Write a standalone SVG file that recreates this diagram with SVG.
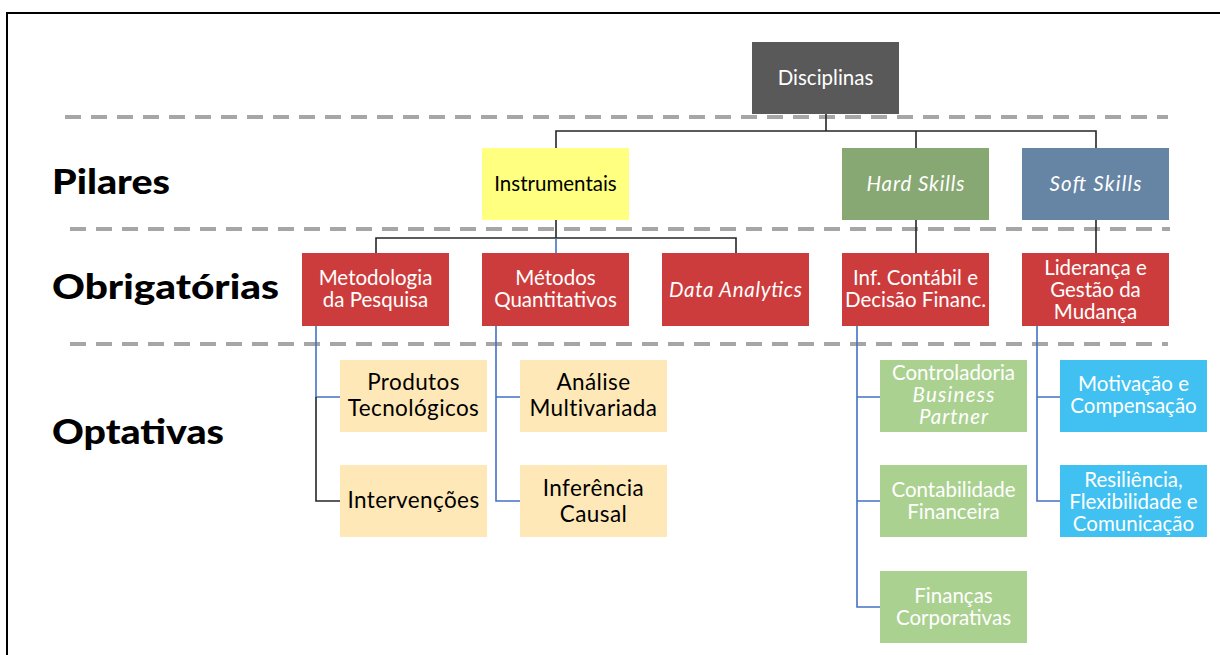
<svg xmlns="http://www.w3.org/2000/svg" width="1220" height="655" viewBox="0 0 1220 655">
<style>
.sep{stroke:#A6A6A6;stroke-width:4;stroke-dasharray:16 10;fill:none}
.k{stroke:#262626;stroke-width:1.6;fill:none}
.b{stroke:#4472C4;stroke-width:1.6;fill:none}
.lab{font-family:"Lato","Liberation Sans",sans-serif;font-weight:900;font-size:34px;fill:#000}
.t{font-family:"Lato","Noto Sans","Liberation Sans",sans-serif;font-size:20.5px;text-anchor:middle}
.t2{font-family:"Lato","Noto Sans","Liberation Sans",sans-serif;font-size:22.5px;letter-spacing:0.4px;text-anchor:middle;fill:#000}
.w{fill:#fff}
.i{font-style:italic}
.red{fill:#CD3C3C}
.opt{fill:#FFE8B7}
.gr{fill:#ABD191}
.bl{fill:#40C1F1}
</style>
<rect x="7" y="13" width="1240" height="700" fill="#fff" stroke="#000" stroke-width="2"/>
<g id="separators">
<line class="sep" x1="65" y1="117" x2="1168" y2="117"/>
<line class="sep" x1="70" y1="229" x2="1170" y2="229"/>
<line class="sep" x1="70" y1="344" x2="1168" y2="344"/>
</g>
<g id="row-labels">
<text class="lab" x="52" y="194" textLength="118" lengthAdjust="spacingAndGlyphs">Pilares</text>
<text class="lab" x="52" y="299" textLength="227" lengthAdjust="spacingAndGlyphs">Obrigatórias</text>
<text class="lab" x="52" y="444" textLength="172" lengthAdjust="spacingAndGlyphs">Optativas</text>
</g>
<g id="connectors">
<path class="k" d="M826 114V131M556 148V131H1096V148M916 131V148"/>
<path class="k" d="M376 253V238H736V253M556 238V220M916 220V253M1096 220V253"/>
<path class="b" d="M556 238V253"/>
<path class="b" d="M316 326V397H340"/>
<path class="k" d="M316 397V501H340"/>
<path class="b" d="M496 326V501H520M496 397H520"/>
<path class="b" d="M857 326V607H880M857 397H880M857 501H880"/>
<path class="b" d="M1037 326V501H1060M1037 397H1060"/>
</g>
<g id="disciplinas">
<rect x="752" y="42" width="147" height="72" fill="#595959"/>
<text class="t w" x="825.5" y="85">Disciplinas</text>
</g>
<g id="instrumentais">
<rect x="482" y="148" width="147" height="72" fill="#FFFF80"/>
<text class="t" x="555.5" y="191" fill="#000">Instrumentais</text>
</g>
<g id="hard-skills">
<rect x="842" y="148" width="147" height="72" fill="#87A872"/>
<text class="t w i" x="915.5" y="191" textLength="98">Hard Skills</text>
</g>
<g id="soft-skills">
<rect x="1022" y="148" width="147" height="72" fill="#6685A5"/>
<text class="t w i" x="1095.5" y="191" textLength="92">Soft Skills</text>
</g>
<g id="metodologia">
<rect class="red" x="302" y="253" width="147" height="73"/>
<text class="t w" x="375.5" y="285">Metodologia</text>
<text class="t w" x="375.5" y="307">da Pesquisa</text>
</g>
<g id="metodos">
<rect class="red" x="482" y="253" width="147" height="73"/>
<text class="t w" x="555.5" y="285">Métodos</text>
<text class="t w" x="555.5" y="307">Quantitativos</text>
</g>
<g id="data-analytics">
<rect class="red" x="662" y="253" width="147" height="73"/>
<text class="t w i" x="735.5" y="297" textLength="133">Data Analytics</text>
</g>
<g id="inf-contabil">
<rect class="red" x="842" y="253" width="147" height="73"/>
<text class="t w" x="915.5" y="285">Inf. Contábil e</text>
<text class="t w" x="915.5" y="307">Decisão Financ.</text>
</g>
<g id="lideranca">
<rect class="red" x="1022" y="253" width="147" height="73"/>
<text class="t w" x="1095.5" y="275">Liderança e</text>
<text class="t w" x="1095.5" y="297">Gestão da</text>
<text class="t w" x="1095.5" y="319">Mudança</text>
</g>
<g id="produtos">
<rect class="opt" x="340" y="360" width="147" height="72"/>
<text class="t2" x="413.5" y="390">Produtos</text>
<text class="t2" x="413.5" y="416">Tecnológicos</text>
</g>
<g id="intervencoes">
<rect class="opt" x="340" y="465" width="147" height="72"/>
<text class="t2" x="413.5" y="508">Intervenções</text>
</g>
<g id="analise">
<rect class="opt" x="520" y="360" width="147" height="72"/>
<text class="t2" x="593.5" y="390">Análise</text>
<text class="t2" x="593.5" y="416">Multivariada</text>
</g>
<g id="inferencia">
<rect class="opt" x="520" y="465" width="147" height="72"/>
<text class="t2" x="593.5" y="496">Inferência</text>
<text class="t2" x="593.5" y="522">Causal</text>
</g>
<g id="controladoria">
<rect class="gr" x="880" y="360" width="147" height="72"/>
<text class="t w" x="953.5" y="380">Controladoria</text>
<text class="t w i" x="953.5" y="402" textLength="82">Business</text>
<text class="t w i" x="953.5" y="424" textLength="69">Partner</text>
</g>
<g id="contabilidade">
<rect class="gr" x="880" y="465" width="147" height="72"/>
<text class="t w" x="953.5" y="497">Contabilidade</text>
<text class="t w" x="953.5" y="519">Financeira</text>
</g>
<g id="financas">
<rect class="gr" x="880" y="571" width="147" height="72"/>
<text class="t w" x="953.5" y="603">Finanças</text>
<text class="t w" x="953.5" y="625">Corporativas</text>
</g>
<g id="motivacao">
<rect class="bl" x="1060" y="360" width="147" height="72"/>
<text class="t w" x="1133.5" y="391">Motivação e</text>
<text class="t w" x="1133.5" y="413">Compensação</text>
</g>
<g id="resiliencia">
<rect class="bl" x="1060" y="465" width="147" height="72"/>
<text class="t w" x="1133.5" y="487">Resiliência,</text>
<text class="t w" x="1133.5" y="509">Flexibilidade e</text>
<text class="t w" x="1133.5" y="531">Comunicação</text>
</g>
</svg>
